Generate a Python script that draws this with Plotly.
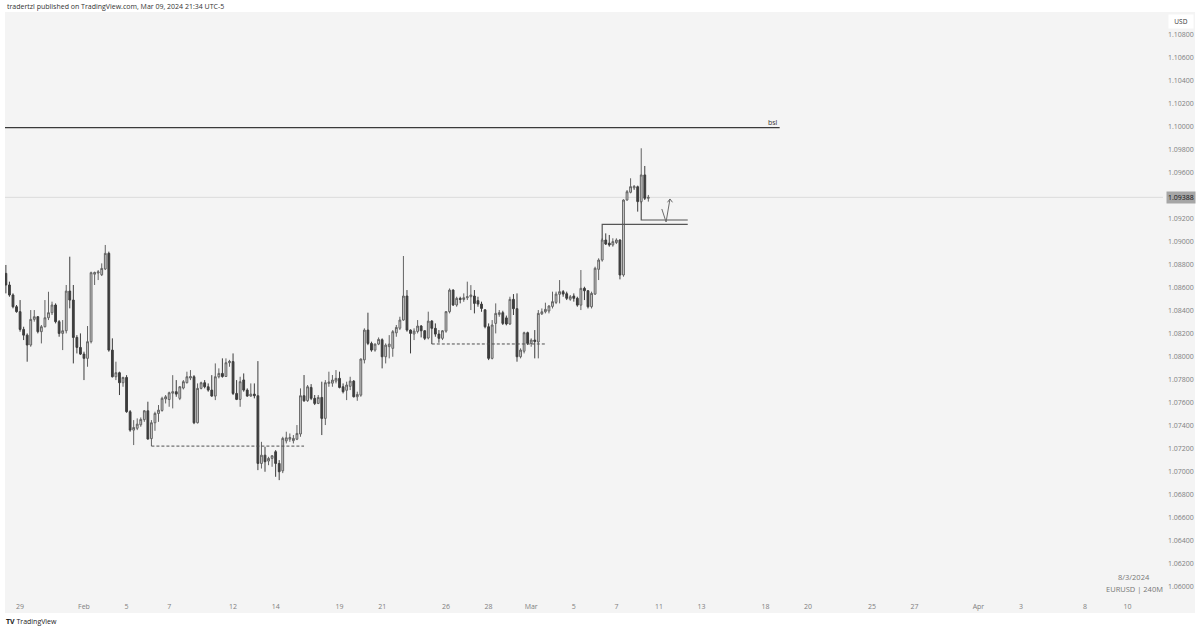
import plotly.graph_objects as go

# ---------------- data (EURUSD 4H candles) ----------------
bar_index = list(range(-2, 180))   # 6 bars per trading day, day d starts near bar 6*d

opens = [
    1.08727, 1.08626, 1.08539, 1.08437, 1.08394, 1.08240, 1.08190, 1.08104, 1.08327, 1.08350,
    1.08220, 1.08263, 1.08341, 1.08385, 1.08452, 1.08307, 1.08205, 1.08228, 1.08573, 1.08495,
    1.08170, 1.08083, 1.08025, 1.07988, 1.08133, 1.08720, 1.08730, 1.08715, 1.08765, 1.08901,
    1.08060, 1.07828, 1.07863, 1.07776, 1.07822, 1.07524, 1.07364, 1.07380, 1.07410, 1.07455,
    1.07532, 1.07290, 1.07428, 1.07509, 1.07535, 1.07635, 1.07630, 1.07685, 1.07698, 1.07640,
    1.07730, 1.07776, 1.07817, 1.07828, 1.07428, 1.07727, 1.07776, 1.07741, 1.07712, 1.07660,
    1.07828, 1.07857, 1.07830, 1.07950, 1.07960, 1.07683, 1.07631, 1.07800, 1.07712, 1.07660,
    1.07677, 1.07663, 1.07074, 1.07146, 1.07095, 1.07118, 1.07176, 1.07074, 1.07010, 1.07270,
    1.07285, 1.07272, 1.07285, 1.07330, 1.07663, 1.07620, 1.07735, 1.07640, 1.07596, 1.07648,
    1.07466, 1.07770, 1.07772, 1.07790, 1.07814, 1.07741, 1.07710, 1.07745, 1.07790, 1.07654,
    1.07668, 1.07975, 1.08234, 1.08118, 1.08060, 1.08112, 1.08150, 1.08002, 1.08090, 1.08075,
    1.08210, 1.08250, 1.08321, 1.08530, 1.08234, 1.08200, 1.08222, 1.08269, 1.08228, 1.08165,
    1.08312, 1.08249, 1.08199, 1.08162, 1.08225, 1.08394, 1.08582, 1.08452, 1.08510, 1.08500,
    1.08515, 1.08524, 1.08530, 1.08490, 1.08460, 1.08410, 1.08263, 1.07988, 1.08292, 1.08370,
    1.08385, 1.08340, 1.08287, 1.08501, 1.08420, 1.08002, 1.08050, 1.08211, 1.08118, 1.08147,
    1.08130, 1.08375, 1.08393, 1.08400, 1.08440, 1.08475, 1.08545, 1.08568, 1.08550, 1.08502,
    1.08530, 1.08510, 1.08451, 1.08597, 1.08576, 1.08437, 1.08547, 1.08762, 1.08843, 1.09017,
    1.08990, 1.08974, 1.08995, 1.09017, 1.08713, 1.09365, 1.09432, 1.09470, 1.09480, 1.09351,
    1.09583, 1.09380,
]
highs = [
    1.08800, 1.08655, 1.08553, 1.08452, 1.08495, 1.08263, 1.08205, 1.08408, 1.08408, 1.08356,
    1.08278, 1.08495, 1.08567, 1.08481, 1.08466, 1.08321, 1.08321, 1.08626, 1.08872, 1.08626,
    1.08190, 1.08205, 1.08046, 1.08269, 1.08742, 1.08742, 1.08756, 1.08814, 1.08974, 1.08916,
    1.08162, 1.07959, 1.07872, 1.07828, 1.07842, 1.07538, 1.07451, 1.07466, 1.07474, 1.07538,
    1.07611, 1.07451, 1.07524, 1.07582, 1.07654, 1.07669, 1.07698, 1.07842, 1.07799, 1.07747,
    1.07799, 1.07872, 1.07886, 1.07842, 1.07770, 1.07785, 1.07799, 1.07770, 1.07842, 1.07944,
    1.07901, 1.07988, 1.07988, 1.07975, 1.08031, 1.07799, 1.07828, 1.07857, 1.07727, 1.07770,
    1.07770, 1.07964, 1.07262, 1.07219, 1.07132, 1.07146, 1.07190, 1.07103, 1.07306, 1.07350,
    1.07335, 1.07321, 1.07408, 1.07727, 1.07843, 1.07756, 1.07764, 1.07669, 1.07669, 1.07785,
    1.07799, 1.07872, 1.07843, 1.07886, 1.07872, 1.07770, 1.07785, 1.07828, 1.07799, 1.07698,
    1.07987, 1.08249, 1.08385, 1.08133, 1.08118, 1.08170, 1.08162, 1.08118, 1.08190, 1.08234,
    1.08278, 1.08350, 1.08878, 1.08582, 1.08240, 1.08249, 1.08321, 1.08278, 1.08234, 1.08394,
    1.08321, 1.08292, 1.08234, 1.08234, 1.08399, 1.08596, 1.08588, 1.08524, 1.08524, 1.08553,
    1.08655, 1.08625, 1.08582, 1.08524, 1.08481, 1.08415, 1.08292, 1.08321, 1.08466, 1.08408,
    1.08402, 1.08360, 1.08524, 1.08547, 1.08553, 1.08075, 1.08220, 1.08220, 1.08162, 1.08234,
    1.08408, 1.08422, 1.08472, 1.08451, 1.08568, 1.08568, 1.08669, 1.08582, 1.08568, 1.08539,
    1.08553, 1.08524, 1.08756, 1.08611, 1.08582, 1.08568, 1.08785, 1.08858, 1.09032, 1.09075,
    1.09061, 1.09032, 1.09032, 1.09023, 1.09371, 1.09452, 1.09554, 1.09495, 1.09490, 1.09815,
    1.09661, 1.09409,
]
lows = [
    1.08553, 1.08524, 1.08423, 1.08385, 1.08220, 1.08147, 1.07959, 1.08089, 1.08307, 1.08205,
    1.08118, 1.08257, 1.08321, 1.08365, 1.08292, 1.08176, 1.08060, 1.08205, 1.08423, 1.07944,
    1.08031, 1.08017, 1.07799, 1.07915, 1.08118, 1.08626, 1.08669, 1.08704, 1.08756, 1.08046,
    1.07822, 1.07799, 1.07669, 1.07741, 1.07515, 1.07350, 1.07234, 1.07364, 1.07393, 1.07436,
    1.07283, 1.07225, 1.07358, 1.07436, 1.07524, 1.07596, 1.07567, 1.07553, 1.07654, 1.07625,
    1.07718, 1.07770, 1.07799, 1.07416, 1.07422, 1.07718, 1.07727, 1.07698, 1.07654, 1.07625,
    1.07814, 1.07820, 1.07828, 1.07915, 1.07669, 1.07625, 1.07567, 1.07698, 1.07654, 1.07654,
    1.07640, 1.07016, 1.07030, 1.07002, 1.07059, 1.07045, 1.06958, 1.06929, 1.06990, 1.07248,
    1.07262, 1.07248, 1.07277, 1.07306, 1.07610, 1.07610, 1.07625, 1.07582, 1.07590, 1.07321,
    1.07408, 1.07741, 1.07741, 1.07770, 1.07727, 1.07683, 1.07625, 1.07712, 1.07648, 1.07619,
    1.07654, 1.07944, 1.08103, 1.08046, 1.08046, 1.08103, 1.07901, 1.07944, 1.07988, 1.08002,
    1.08176, 1.08234, 1.08315, 1.08220, 1.08031, 1.08147, 1.08205, 1.08170, 1.08147, 1.08153,
    1.08112, 1.08176, 1.08124, 1.08147, 1.08211, 1.08379, 1.08443, 1.08437, 1.08466, 1.08480,
    1.08495, 1.08408, 1.08379, 1.08437, 1.08393, 1.08249, 1.07973, 1.07979, 1.08205, 1.08350,
    1.08278, 1.08275, 1.08278, 1.08365, 1.07959, 1.07988, 1.08031, 1.08104, 1.08089, 1.07988,
    1.07988, 1.08365, 1.08379, 1.08379, 1.08422, 1.08460, 1.08466, 1.08524, 1.08495, 1.08489,
    1.08481, 1.08437, 1.08408, 1.08495, 1.08422, 1.08422, 1.08539, 1.08669, 1.08829, 1.08974,
    1.08959, 1.08959, 1.08982, 1.08675, 1.08698, 1.09359, 1.09423, 1.09452, 1.09264, 1.09336,
    1.09365, 1.09351,
]
closes = [
    1.08626, 1.08539, 1.08437, 1.08394, 1.08240, 1.08190, 1.08104, 1.08327, 1.08350, 1.08220,
    1.08263, 1.08341, 1.08385, 1.08452, 1.08307, 1.08205, 1.08228, 1.08573, 1.08495, 1.08170,
    1.08083, 1.08025, 1.07988, 1.08133, 1.08733, 1.08735, 1.08740, 1.08770, 1.08901, 1.08060,
    1.07828, 1.07863, 1.07776, 1.07822, 1.07524, 1.07364, 1.07387, 1.07416, 1.07457, 1.07532,
    1.07286, 1.07428, 1.07509, 1.07538, 1.07640, 1.07654, 1.07689, 1.07698, 1.07677, 1.07741,
    1.07785, 1.07828, 1.07830, 1.07428, 1.07727, 1.07776, 1.07741, 1.07712, 1.07660, 1.07828,
    1.07857, 1.07830, 1.07950, 1.07962, 1.07683, 1.07631, 1.07785, 1.07712, 1.07660, 1.07677,
    1.07663, 1.07074, 1.07146, 1.07089, 1.07118, 1.07141, 1.07074, 1.07002, 1.07292, 1.07297,
    1.07300, 1.07292, 1.07335, 1.07663, 1.07619, 1.07741, 1.07640, 1.07596, 1.07648, 1.07466,
    1.07776, 1.07782, 1.07799, 1.07814, 1.07735, 1.07698, 1.07756, 1.07790, 1.07654, 1.07674,
    1.07982, 1.08234, 1.08118, 1.08060, 1.08112, 1.08153, 1.08002, 1.08103, 1.08112, 1.08220,
    1.08257, 1.08321, 1.08530, 1.08234, 1.08205, 1.08225, 1.08269, 1.08228, 1.08162, 1.08312,
    1.08249, 1.08199, 1.08162, 1.08228, 1.08394, 1.08582, 1.08452, 1.08510, 1.08500, 1.08515,
    1.08524, 1.08539, 1.08466, 1.08460, 1.08422, 1.08263, 1.07988, 1.08278, 1.08379, 1.08385,
    1.08292, 1.08287, 1.08501, 1.08420, 1.08002, 1.08060, 1.08211, 1.08118, 1.08147, 1.08135,
    1.08379, 1.08393, 1.08414, 1.08443, 1.08481, 1.08547, 1.08568, 1.08547, 1.08510, 1.08524,
    1.08510, 1.08451, 1.08597, 1.08576, 1.08437, 1.08553, 1.08771, 1.08843, 1.09017, 1.08982,
    1.08974, 1.09003, 1.09017, 1.08713, 1.09365, 1.09437, 1.09481, 1.09484, 1.09351, 1.09583,
    1.09380, 1.09388,
]

# x-axis day labels (trading-day number, label text)
tick_days = [0, 3, 5, 7, 10, 12, 15, 17, 20, 22, 24, 26, 28, 30, 32, 35, 37, 40, 42, 45, 47, 50, 52]
tick_text = ["29", "Feb", "5", "7", "12", "14", "19", "21", "26", "28", "Mar", "5", "7",
             "11", "13", "18", "20", "25", "27", "Apr", "3", "8", "10"]
BARS_PER_DAY = 6
LABEL_BAR = 2
tick_pos = [d * BARS_PER_DAY + LABEL_BAR for d in tick_days]

# price axis labels (1.09400 hidden behind the last-price tag)
price_ticks = [1.060, 1.062, 1.064, 1.066, 1.068, 1.070, 1.072, 1.074, 1.076, 1.078,
               1.080, 1.082, 1.084, 1.086, 1.088, 1.090, 1.092, 1.096, 1.098, 1.100,
               1.102, 1.104, 1.106, 1.108]

# drawings
bsl_level = 1.09995
bsl_x = [-3, 216]
ssl1_level, ssl1_x = 1.07225, [39, 82]
ssl2_level, ssl2_x = 1.08113, [118, 150]
box_a_x = [166, 166, 190.1]
box_a_y = [1.09017, 1.09154, 1.09154]
box_b_x = [177, 177, 190.1]
box_b_y = [1.09350, 1.09191, 1.09191]
arrow_x = [182.8, 184.0, 185.1, None, 184.4, 185.1, 185.8]
arrow_y = [1.09287, 1.09174, 1.09374, None, 1.09345, 1.09374, 1.09345]

# ---------------- figure ----------------
W, H = 1200, 630
L, R, T, B = 5, 37, 12, 32
PW, PH = W - L - R, H - T - B
BG = "#f4f4f4"
FONT = "Open Sans"


def px(xp):
    return (xp - L) / PW


def py(yp):
    return (H - B - yp) / PH


fig = go.Figure()
fig.add_trace(go.Candlestick(
    x=bar_index, open=opens, high=highs, low=lows, close=closes,
    increasing=dict(fillcolor="#d6d6d6", line=dict(color="#626262", width=1)),
    decreasing=dict(fillcolor="#3d3d3d", line=dict(color="#3d3d3d", width=1)),
    whiskerwidth=0, hoverinfo="skip", showlegend=False,
))

line_style = dict(color="#3a3a3a", width=1.2)
fig.add_trace(go.Scatter(x=bsl_x, y=[bsl_level, bsl_level], mode="lines",
                         line=line_style, hoverinfo="skip", showlegend=False))
for lvl, xs in [(ssl1_level, ssl1_x), (ssl2_level, ssl2_x)]:
    fig.add_trace(go.Scatter(x=xs, y=[lvl, lvl], mode="lines",
                             line=dict(color="#505050", width=1, dash="3px,2px"),
                             hoverinfo="skip", showlegend=False))
for xs, ys in [(box_a_x, box_a_y), (box_b_x, box_b_y)]:
    fig.add_trace(go.Scatter(x=xs, y=ys, mode="lines",
                             line=dict(color="#555555", width=1.2),
                             hoverinfo="skip", showlegend=False))
fig.add_trace(go.Scatter(x=arrow_x, y=arrow_y, mode="lines",
                         line=dict(color="#6a6a6a", width=1),
                         hoverinfo="skip", showlegend=False, connectgaps=False))

last_price = closes[-1]

shapes = [
    # grey chart background incl. axis strips
    dict(type="rect", xref="paper", yref="paper", x0=px(5), x1=px(1195), y0=py(613), y1=py(12),
         fillcolor=BG, line=dict(width=0), layer="below"),
    # last-price line
    dict(type="line", xref="paper", yref="y", x0=0, x1=1, y0=last_price, y1=last_price,
         line=dict(color="#dcdcdc", width=1), layer="below"),
]

annotations = [
    dict(text="tradertzl published on TradingView.com, Mar 09, 2024 21:34 UTC-5",
         xref="paper", yref="paper", x=px(5), y=py(6), xanchor="left", yanchor="middle",
         showarrow=False, font=dict(family=FONT, size=7, color="#333333")),
    dict(text="<b>TV</b> TradingView", xref="paper", yref="paper", x=px(4), y=py(621),
         xanchor="left", yanchor="middle", showarrow=False,
         font=dict(family=FONT, size=7, color="#222222")),
    dict(text="8/3/2024", xref="paper", yref="paper", x=px(1134), y=py(577),
         xanchor="center", yanchor="middle", showarrow=False,
         font=dict(family=FONT, size=7.5, color="#777777")),
    dict(text="EURUSD | 240M", xref="paper", yref="paper", x=px(1134), y=py(589),
         xanchor="center", yanchor="middle", showarrow=False,
         font=dict(family=FONT, size=7.5, color="#777777")),
    dict(text="USD", xref="paper", yref="paper", x=px(1181), y=py(21),
         xanchor="center", yanchor="middle", showarrow=False, bgcolor="#ffffff",
         borderpad=2, width=20, font=dict(family=FONT, size=6.5, color="#333333")),
    dict(text="bsl", xref="x", yref="y", x=bsl_x[1], y=bsl_level, xanchor="right",
         yanchor="bottom", showarrow=False, yshift=-1,
         font=dict(family=FONT, size=7, color="#333333")),
    dict(text=f"{last_price:.5f}", xref="paper", yref="y", x=1, y=last_price,
         xanchor="left", yanchor="middle", xshift=3, showarrow=False,
         bgcolor="#a6a6a6", borderpad=1,
         font=dict(family=FONT, size=7, color="#111111")),
]

fig.update_layout(
    width=W, height=H,
    margin=dict(l=L, r=R, t=T, b=B, pad=0),
    paper_bgcolor="#ffffff", plot_bgcolor=BG,
    font=dict(family=FONT, size=7, color="#808080"),
    boxgap=0.28,
    hovermode=False,
    showlegend=False,
    shapes=shapes,
    annotations=annotations,
    xaxis=dict(range=[-2.25, 324.0], rangeslider=dict(visible=False), showgrid=False,
               zeroline=False, showline=False, tickmode="array", tickvals=tick_pos,
               ticktext=tick_text, ticks="", ticklabelstandoff=3,
               tickfont=dict(family=FONT, size=7, color="#808080"), fixedrange=True),
    yaxis=dict(range=[1.05904, 1.11000], side="right", showgrid=False, zeroline=False,
               showline=False, tickmode="array", tickvals=price_ticks, tickformat=".5f",
               ticks="", ticklabelstandoff=4,
               tickfont=dict(family=FONT, size=7, color="#808080"), fixedrange=True),
)

fig.write_html("out.html", config={"displayModeBar": False, "staticPlot": True},
               post_script="document.body.style.margin='0';document.body.style.overflow='hidden';")
